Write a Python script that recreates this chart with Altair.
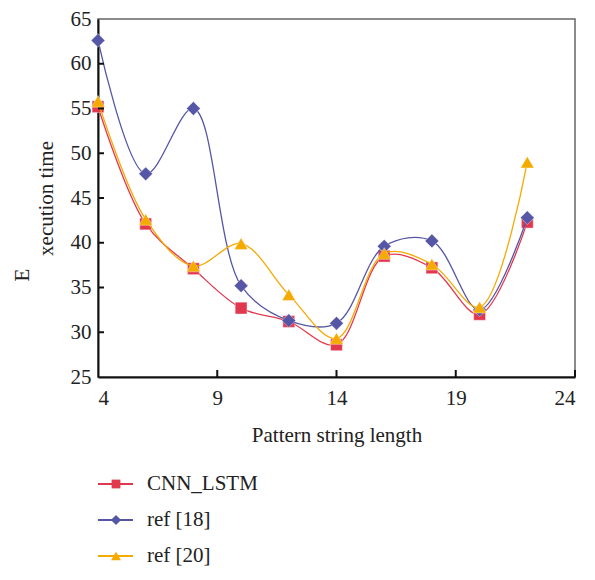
import altair as alt
import pandas as pd

lengths = [4, 6, 8, 10, 12, 14, 16, 18, 20, 22]
cnn_lstm = [55.2, 42.1, 37.1, 32.7, 31.2, 28.6, 38.5, 37.2, 32.0, 42.3]
ref18 = [62.6, 47.7, 55.0, 35.2, 31.3, 31.0, 39.6, 40.2, 32.5, 42.8]
ref20 = [55.8, 42.6, 37.4, 39.9, 34.2, 29.3, 38.8, 37.6, 32.8, 49.0]

series_names = ["CNN_LSTM", "ref [18]", "ref [20]"]
series_values = [cnn_lstm, ref18, ref20]
colors = ["#E2384F", "#5656A6", "#F5AA00"]
shapes = ["square", "diamond", "triangle-up"]
sizes = [140, 190, 180]

y_ticks = [25, 30, 35, 40, 45, 50, 55, 60, 65]
x_ticks = [4, 9, 14, 19, 24]

W, H = 477, 358
FONT = "Liberation Serif"
FS = 21

rows = []
for name, vals in zip(series_names, series_values):
    for x, v in zip(lengths, vals):
        rows.append({"length": x, "time": v, "series": name})
df = pd.DataFrame(rows)

xs = alt.Scale(domain=[4, 24], nice=False)
ys = alt.Scale(domain=[25, 65], nice=False)

layers = []
for name, c, sh, sz in zip(series_names, colors, shapes, sizes):
    sub = df[df.series == name]
    base = alt.Chart(sub)
    line = base.mark_line(interpolate="catmull-rom", strokeWidth=1.3, color=c).encode(
        x=alt.X("length:Q", scale=xs,
                axis=alt.Axis(values=x_ticks, title="Pattern string length", grid=False,
                              ticks=False, domainColor="#111", domainWidth=2,
                              labelFont=FONT, labelFontSize=FS, labelColor="#222",
                              labelPadding=10, titleFont=FONT, titleFontSize=FS,
                              titleFontWeight="normal", titleColor="#222", titlePadding=16)),
        y=alt.Y("time:Q", scale=ys,
                axis=alt.Axis(values=y_ticks, title="xecution time", grid=False,
                              ticks=False, domainColor="#111", domainWidth=2,
                              labelFont=FONT, labelFontSize=FS, labelColor="#222",
                              labelPadding=7, titleFont=FONT, titleFontSize=FS,
                              titleFontWeight="normal", titleColor="#222", titlePadding=14)),
    )
    pts = base.mark_point(shape=sh, filled=True, size=sz, color=c, opacity=1,
                          stroke="white", strokeWidth=0.4).encode(
        x=alt.X("length:Q", scale=xs), y=alt.Y("time:Q", scale=ys))
    layers += [line, pts]

# inward ticks
ytick_df = pd.DataFrame({"v": y_ticks[1:-1]})
ytk = alt.Chart(ytick_df).mark_rule(color="#111", strokeWidth=2).encode(
    y=alt.Y("v:Q", scale=ys), x=alt.value(0), x2=alt.value(6))
xtick_df = pd.DataFrame({"v": x_ticks[1:]})
xtk = alt.Chart(xtick_df).mark_rule(color="#111", strokeWidth=2).encode(
    x=alt.X("v:Q", scale=xs), y=alt.value(H), y2=alt.value(H - 7))
layers += [ytk, xtk]

# split "E" of the y title
e_df = pd.DataFrame({"t": ["E"]})
e_txt = alt.Chart(e_df).mark_text(font=FONT, fontSize=FS, color="#222", angle=270).encode(
    text="t:N", x=alt.value(-75), y=alt.value(256))
layers.append(e_txt)

# manual legend
for i, (name, c, sh, sz) in enumerate(zip(series_names, colors, shapes, sizes)):
    yy = 465 + 36 * i
    ldf = pd.DataFrame({"label": [name]})
    lb = alt.Chart(ldf)
    layers.append(lb.mark_rule(color=c, strokeWidth=2).encode(
        x=alt.value(0), x2=alt.value(35), y=alt.value(yy)))
    layers.append(lb.mark_point(shape=sh, filled=True, size=sz * 0.55, color=c, opacity=1).encode(
        x=alt.value(18), y=alt.value(yy)))
    layers.append(lb.mark_text(font=FONT, fontSize=FS, color="#222", align="left",
                               baseline="middle").encode(
        text="label:N", x=alt.value(49), y=alt.value(yy)))

chart = alt.layer(*layers).properties(
    width=W, height=H,
    autosize=alt.AutoSizeParams(type="none"),
    padding={"left": 90, "top": 11, "right": 10, "bottom": 195},
).configure_view(stroke="#666", strokeWidth=1.5)

chart.save("out.html", embed_options={"renderer": "svg", "actions": False})
